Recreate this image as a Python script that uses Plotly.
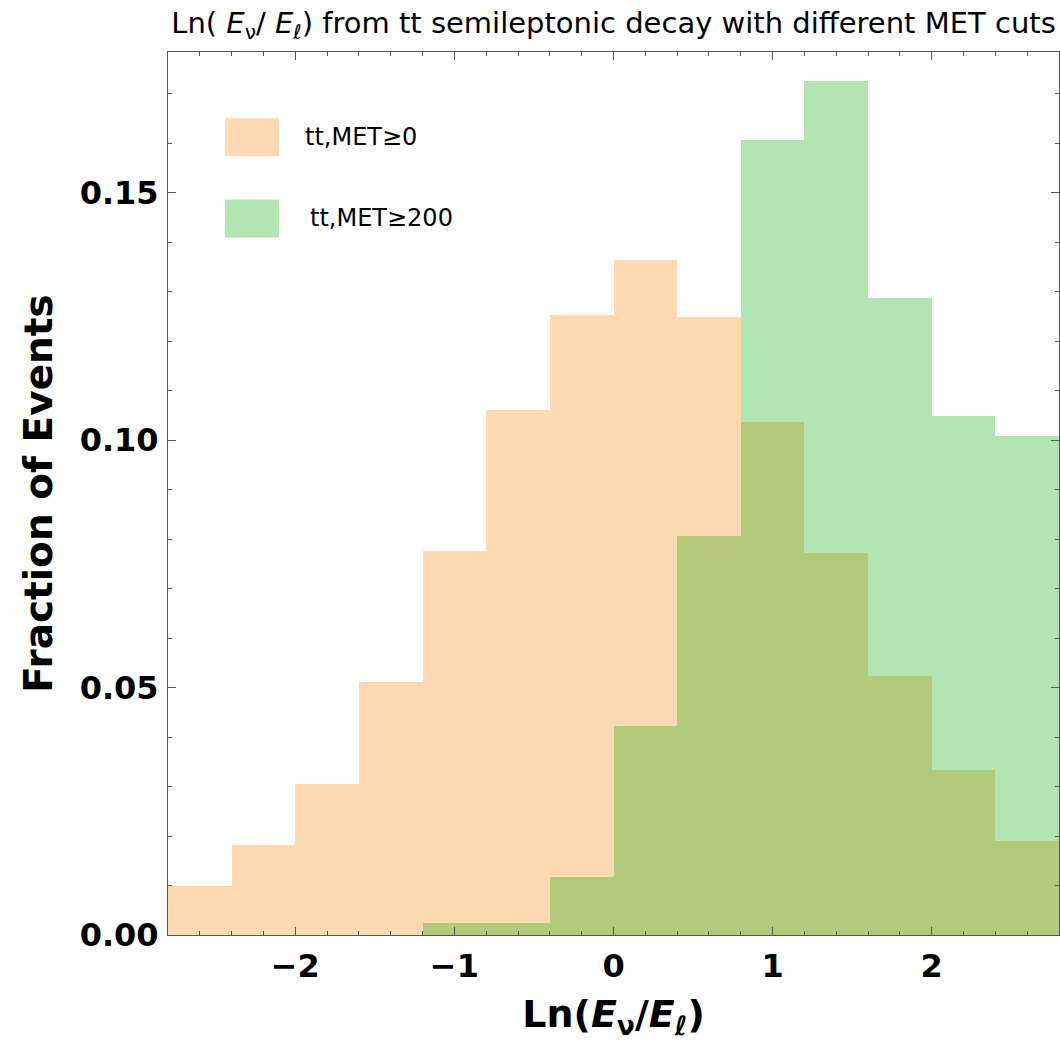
import plotly.graph_objects as go

# Histogram bins: left edges, width 0.4 in Ln(E_nu/E_l)
bin_width = 0.4
bin_edges = [-2.8, -2.4, -2.0, -1.6, -1.2, -0.8, -0.4, 0.0, 0.4, 0.8, 1.2, 1.6, 2.0, 2.4]

# Fraction of events per bin, tt semileptonic, MET >= 0
frac_met0 = [0.0098, 0.0181, 0.0305, 0.0512, 0.0775, 0.1060, 0.1252,
             0.1363, 0.1249, 0.1036, 0.0771, 0.0524, 0.0334, 0.0189]

# Fraction of events per bin, tt semileptonic, MET >= 200 (bins from -1.2)
edges_met200 = [-1.2, -0.8, -0.4, 0.0, 0.4, 0.8, 1.2, 1.6, 2.0, 2.4]
frac_met200 = [0.0025, 0.0025, 0.0117, 0.0423, 0.0807,
               0.1607, 0.1726, 0.1288, 0.1049, 0.1008]

legend_labels = ["tt,MET≥0", "tt,MET≥200"]
x_tickvals = [-2, -1, 0, 1, 2]
x_ticktext = ["−2", "−1", "0", "1", "2"]
y_tickvals = [0.0, 0.05, 0.10, 0.15]
y_ticktext = ["0.00", "0.05", "0.10", "0.15"]

orange_fill = "rgba(255,128,0,0.3)"
green_fill = "rgba(0,170,0,0.3)"
edge = dict(width=0)

fig = go.Figure()
fig.add_trace(go.Bar(
    x=[e + bin_width / 2 for e in bin_edges], y=frac_met0, width=bin_width,
    marker=dict(color=orange_fill, line=edge), name=legend_labels[0],
    showlegend=False,
))
fig.add_trace(go.Bar(
    x=[e + bin_width / 2 for e in edges_met200], y=frac_met200, width=bin_width,
    marker=dict(color=green_fill, line=edge), name=legend_labels[1],
    showlegend=False,
))

frame_col = "#555555"
tick_font = dict(family="DejaVu Sans", size=32, color="black", weight="bold")

fig.update_layout(
    width=1060, height=1041,
    margin=dict(l=168, r=1, t=52, b=106),
    paper_bgcolor="white", plot_bgcolor="white",
    barmode="overlay", bargap=0,
    title=dict(
        text="Ln( <i>E</i><sub>ν</sub>/ <i>E</i><sub>ℓ</sub>) from tt semileptonic decay with different MET cuts",
        font=dict(family="DejaVu Sans", size=29, color="black"),
        x=0.5, xref="paper", xanchor="center", y=0.978, yanchor="middle",
    ),
    xaxis=dict(
        range=[-2.8, 2.8], tickvals=x_tickvals, ticktext=x_ticktext,
        ticks="inside", ticklen=8, tickwidth=1, tickcolor=frame_col,
        minor=dict(dtick=0.2, tick0=0, ticks="inside", ticklen=4,
                   tickwidth=1, tickcolor=frame_col),
        showline=True, linecolor=frame_col, linewidth=1, mirror="ticks",
        showgrid=False, zeroline=False, tickfont=tick_font,
        ticklabelstandoff=3,
        title=dict(
            text="<b>Ln(<i>E</i><sub>ν</sub>/<i>E</i><sub>ℓ</sub>)</b>",
            font=dict(family="DejaVu Sans", size=38, color="black"),
            standoff=16,
        ),
    ),
    yaxis=dict(
        range=[0, 0.1784], tickvals=y_tickvals, ticktext=y_ticktext,
        ticks="inside", ticklen=8, tickwidth=1, tickcolor=frame_col,
        minor=dict(dtick=0.01, tick0=0, ticks="inside", ticklen=4,
                   tickwidth=1, tickcolor=frame_col),
        showline=True, linecolor=frame_col, linewidth=1, mirror="ticks",
        showgrid=False, zeroline=False, tickfont=tick_font,
        ticklabelstandoff=2,
        title=dict(
            text="<b>Fraction of Events</b>",
            font=dict(family="DejaVu Sans", size=39, color="black"),
            standoff=14,
        ),
    ),
)

# Legend: filled swatches with labels, placed in the upper-left of the frame
legend_rows = [(0.925, 0.882, orange_fill, 0.1515, 0.9035),
               (0.833, 0.790, green_fill, 0.157, 0.8119)]
for (y1, y0, col, tx, ty), label in zip(legend_rows, legend_labels):
    fig.add_shape(type="rect", xref="paper", yref="paper",
                  x0=0.064, x1=0.1246, y0=y0, y1=y1,
                  fillcolor=col, line=dict(width=0), layer="above")
    fig.add_annotation(xref="paper", yref="paper", x=tx, y=ty,
                       text=label, showarrow=False, xanchor="left",
                       yanchor="middle",
                       font=dict(family="DejaVu Sans", size=24, color="black"))

fig.write_html("out.html")
